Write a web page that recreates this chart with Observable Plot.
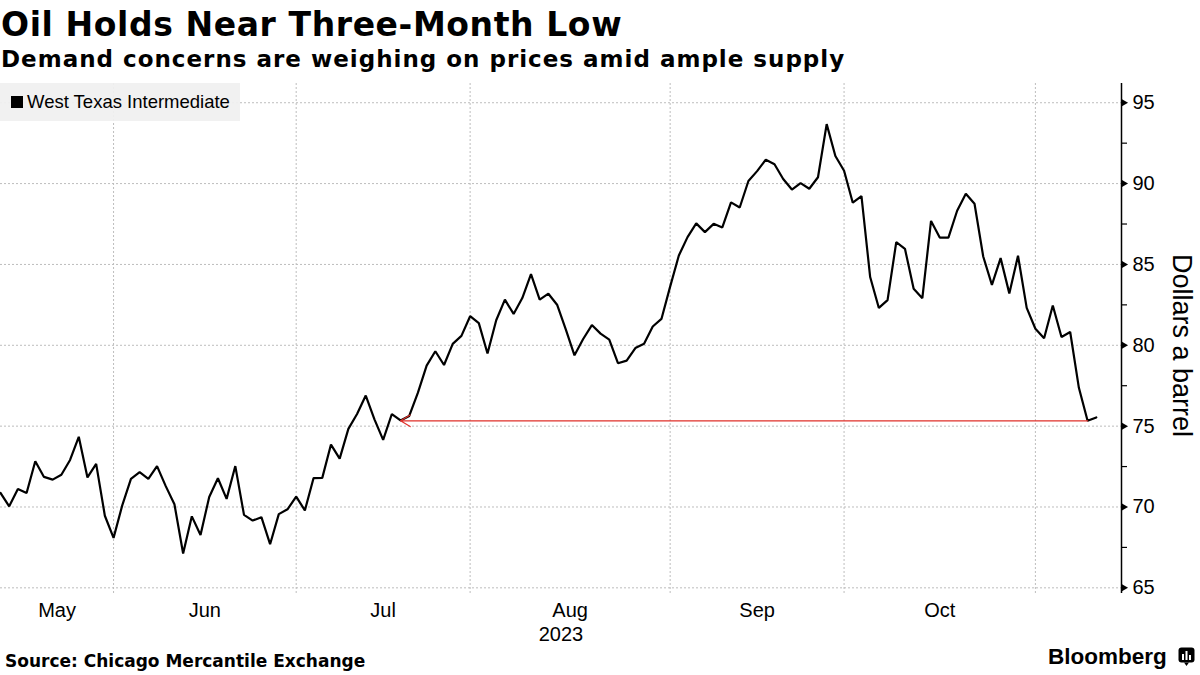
<!DOCTYPE html>
<html>
<head>
<meta charset="utf-8">
<script src="https://cdn.jsdelivr.net/npm/d3@7"></script>
<script src="https://cdn.jsdelivr.net/npm/@observablehq/plot@0.6"></script>
<style>
  html, body { margin: 0; padding: 0; background: #fff; }
  #wrap { position: relative; width: 1200px; height: 675px; overflow: hidden; color: #000;
          font-family: "Liberation Sans", Arial, sans-serif; }
  #title { position: absolute; left: 1px; top: 5px; font: bold 33px "DejaVu Sans", sans-serif; line-height: 40px; white-space: nowrap; letter-spacing: 0.6px; }
  #subtitle { position: absolute; left: 1px; top: 45px; font: bold 23px "DejaVu Sans", sans-serif; line-height: 28px; white-space: nowrap; letter-spacing: 1px; }
  #chart { position: absolute; left: 0; top: 78px; }
  #legend { position: absolute; left: 0; top: 83px; width: 240px; height: 38px; background: rgba(240,240,240,0.93);
            display: flex; align-items: center; font-size: 18.5px; white-space: nowrap; }
  #legend .sw { width: 12px; height: 12px; background: #000; margin-left: 11px; margin-right: 4px; }
  #source { position: absolute; left: 5px; top: 650px; font: bold 17px "DejaVu Sans", sans-serif; line-height: 22px; white-space: nowrap; }
  #logo { position: absolute; left: 1048px; top: 644px; font: bold 22.5px "Liberation Sans", Arial, sans-serif; line-height: 26px;
          white-space: nowrap; display: flex; align-items: center; }
  #logo svg { margin-left: 11px; }
</style>
</head>
<body>
<div id="wrap">
  <div id="title"></div>
  <div id="subtitle"></div>
  <div id="chart"></div>
  <div id="legend"><div class="sw"></div><span id="legendText"></span></div>
  <div id="source"></div>
  <div id="logo"><span id="logoText"></span>
    <svg width="17" height="20" viewBox="0 0 17 20">
      <rect x="0.5" y="0.5" width="16" height="15" rx="3" fill="#000"/>
      <path d="M6 15.5 L8.5 19 L11 15.5 Z" fill="#000"/>
      <rect x="4" y="7" width="2" height="6" fill="#fff"/>
      <rect x="7.5" y="4" width="2" height="9" fill="#fff"/>
      <rect x="11" y="8" width="2" height="5" fill="#fff"/>
    </svg>
  </div>
</div>
<script>
// ---------- text ----------
const titleText = "Oil Holds Near Three-Month Low";
const subtitleText = "Demand concerns are weighing on prices amid ample supply";
const seriesName = "West Texas Intermediate";
const yAxisLabel = "Dollars a barrel";
const sourceText = "Source: Chicago Mercantile Exchange";
const brandText = "Bloomberg";

// ---------- data: WTI daily settlements (trading days) ----------
const dates = [
  "2023-05-11","2023-05-12","2023-05-15","2023-05-16","2023-05-17","2023-05-18","2023-05-19","2023-05-22","2023-05-23","2023-05-24","2023-05-25","2023-05-26","2023-05-30","2023-05-31",
  "2023-06-01","2023-06-02","2023-06-05","2023-06-06","2023-06-07","2023-06-08","2023-06-09","2023-06-12","2023-06-13","2023-06-14","2023-06-15","2023-06-16","2023-06-20","2023-06-21","2023-06-22","2023-06-23","2023-06-26","2023-06-27","2023-06-28","2023-06-29","2023-06-30",
  "2023-07-03","2023-07-05","2023-07-06","2023-07-07","2023-07-10","2023-07-11","2023-07-12","2023-07-13","2023-07-14","2023-07-17","2023-07-18","2023-07-19","2023-07-20","2023-07-21","2023-07-24","2023-07-25","2023-07-26","2023-07-27","2023-07-28","2023-07-31",
  "2023-08-01","2023-08-02","2023-08-03","2023-08-04","2023-08-07","2023-08-08","2023-08-09","2023-08-10","2023-08-11","2023-08-14","2023-08-15","2023-08-16","2023-08-17","2023-08-18","2023-08-21","2023-08-22","2023-08-23","2023-08-24","2023-08-25","2023-08-28","2023-08-29","2023-08-30","2023-08-31",
  "2023-09-01","2023-09-05","2023-09-06","2023-09-07","2023-09-08","2023-09-11","2023-09-12","2023-09-13","2023-09-14","2023-09-15","2023-09-18","2023-09-19","2023-09-20","2023-09-21","2023-09-22","2023-09-25","2023-09-26","2023-09-27","2023-09-28","2023-09-29",
  "2023-10-02","2023-10-03","2023-10-04","2023-10-05","2023-10-06","2023-10-09","2023-10-10","2023-10-11","2023-10-12","2023-10-13","2023-10-16","2023-10-17","2023-10-18","2023-10-19","2023-10-20","2023-10-23","2023-10-24","2023-10-25","2023-10-26","2023-10-27","2023-10-30","2023-10-31",
  "2023-11-01","2023-11-02","2023-11-03","2023-11-06","2023-11-07","2023-11-08","2023-11-09"
];
const prices = [
  70.87,70.04,71.11,70.86,72.83,71.86,71.69,71.99,72.91,74.34,71.83,72.67,69.46,68.09,
  70.10,71.74,72.15,71.74,72.53,71.29,70.17,67.12,69.42,68.27,70.62,71.78,70.50,72.53,69.51,69.16,69.37,67.70,69.56,69.86,70.64,
  69.79,71.79,71.80,73.86,72.99,74.83,75.75,76.89,75.42,74.15,75.75,75.35,75.63,77.07,78.74,79.63,78.78,80.09,80.58,81.80,
  81.37,79.49,81.55,82.82,81.94,82.92,84.40,82.82,83.19,82.51,80.99,79.38,80.39,81.25,80.72,80.35,78.89,79.05,79.83,80.10,81.16,81.63,83.63,
  85.55,86.69,87.54,87.00,87.51,87.29,88.84,88.52,90.16,90.77,91.48,91.20,90.28,89.63,90.03,89.68,90.39,93.68,91.71,90.79,
  88.82,89.23,84.22,82.31,82.79,86.38,85.97,83.49,82.91,87.69,86.66,86.66,88.32,89.37,88.75,85.49,83.74,85.39,83.21,85.54,82.31,81.02,
  80.44,82.46,80.51,80.82,77.37,75.33,75.54
];
const monthNames = ["May","Jun","Jul","Aug","Sep","Oct"];
const yearLabel = "2023";
const yTicks = [65, 70, 75, 80, 85, 90, 95];
const yMinorTicks = [67.5, 72.5, 77.5, 82.5, 87.5, 92.5];
const yDomain = [64.65, 96.19];
// annotation: line from the latest low back to the last time price was there
const arrowFromDate = "2023-11-08";
const arrowToDate = "2023-07-19";

// ---------- derived ----------
const data = dates.map((d, i) => ({i, date: d, price: prices[i]}));
const boundaries = [];
for (let i = 0; i < dates.length - 1; i++) {
  if (dates[i].slice(0, 7) !== dates[i + 1].slice(0, 7)) boundaries.push(i);
}
const monthLabels = monthNames.map((m, k) => ({
  name: m,
  x: ((k === 0 ? 0 : boundaries[k - 1]) + boundaries[k]) / 2
}));
const xMax = dates.length - 1 + 2.9;
const iFrom = dates.indexOf(arrowFromDate);
const iTo = dates.indexOf(arrowToDate);
const arrowData = [{x1: iFrom, x2: iTo, y: prices[iFrom]}];

document.getElementById("title").textContent = titleText;
document.getElementById("subtitle").textContent = subtitleText;
document.getElementById("legendText").textContent = seriesName;
document.getElementById("source").textContent = sourceText;
document.getElementById("logoText").textContent = brandText;

const grid = {stroke: "#bdbdbd", strokeDasharray: "2,2", strokeWidth: 1};

const chart = Plot.plot({
  width: 1200,
  height: 568,
  marginLeft: 0,
  marginRight: 79,
  marginTop: 5,
  marginBottom: 53,
  style: {fontFamily: "'Liberation Sans', Arial, sans-serif", fontSize: "20px", color: "#000", background: "transparent", overflow: "visible"},
  x: {domain: [0, xMax], axis: null},
  y: {domain: yDomain, axis: null},
  marks: [
    Plot.ruleY(yTicks, grid),
    Plot.ruleX(boundaries, grid),
    Plot.line(data, {x: "i", y: "price", stroke: "#000", strokeWidth: 2.2, strokeLinejoin: "miter"}),
    Plot.arrow(arrowData, {x1: "x1", y1: "y", x2: "x2", y2: "y", stroke: "#e0302a", strokeWidth: 1.2,
                           headLength: 14, headAngle: 62, bend: 0}),
    Plot.ruleX([xMax], {stroke: "#000", strokeWidth: 1.5}),
    Plot.axisY(yMinorTicks, {anchor: "right", tickSize: 5, tickFormat: () => "", strokeWidth: 1.2}),
    Plot.axisY(yTicks, {anchor: "right", tickSize: 0, tickPadding: 11, fontSize: 20}),
    Plot.dot(yTicks, {x: () => xMax, y: d => d, symbol: "triangle", r: 2.6, rotate: 90, dx: 2.5, fill: "#000", stroke: null}),
    Plot.text(monthLabels, {x: "x", text: "name", frameAnchor: "bottom", lineAnchor: "middle", dy: 17, fontSize: 20}),
    Plot.text([yearLabel], {frameAnchor: "bottom", lineAnchor: "middle", dy: 41, fontSize: 20}),
    Plot.text([yAxisLabel], {frameAnchor: "right", textAnchor: "middle", lineAnchor: "middle", rotate: 90, dx: 60, dy: 7, fontSize: 27})
  ]
});
document.getElementById("chart").appendChild(chart);
</script>
</body>
</html>
